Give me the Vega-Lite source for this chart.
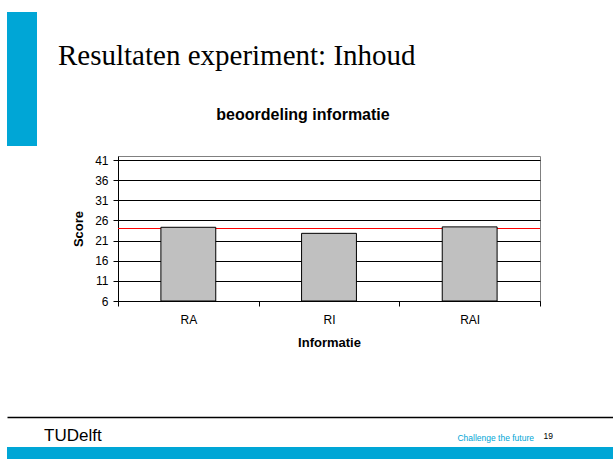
{
  "$schema": "https://vega.github.io/schema/vega-lite/v6.json",
  "background": "white",
  "padding": {"left": 7, "top": 12, "right": 0, "bottom": 0},
  "config": {
    "font": "Liberation Sans",
    "view": {"stroke": null},
    "concat": {"spacing": 0}
  },
  "spacing": -27,
  "vconcat": [
    {
      "title": {"text": "TUDelft", "orient": "bottom", "anchor": "start", "font": "Liberation Sans", "fontSize": 17, "fontWeight": "normal", "color": "#000000", "offset": -14, "dx": 37},
      "vconcat": [
        {
          "title": {"text": "19", "orient": "bottom", "anchor": "end", "font": "Liberation Sans", "fontSize": 8.5, "fontWeight": "normal", "color": "#000000", "offset": -10, "dx": 12},
          "vconcat": [
            {
              "title": {"text": "Challenge the future", "orient": "bottom", "anchor": "end", "font": "Liberation Sans", "fontSize": 8.5, "fontWeight": "normal", "color": "#00a6d6", "offset": 84, "dx": -7},
              "hconcat": [
                {
                  "data": {"values": []},
                  "width": 30,
                  "height": 134,
                  "view": {"fill": "#00a6d6", "stroke": null},
                  "mark": "rect",
                  "encoding": {}
                },
                {
                  "spacing": 35,
                  "vconcat": [
                    {
                      "data": {"values": []},
                      "width": 422,
                      "height": 1,
                      "view": {"fill": null, "stroke": null},
                      "title": {"text": "Resultaten experiment: Inhoud", "orient": "bottom", "anchor": "start", "font": "Liberation Serif", "fontSize": 29, "fontWeight": "normal", "color": "#000000", "offset": 29, "dx": -60},
                      "mark": "rect",
                      "encoding": {}
                    },
                    {
                      "title": {"text": "beoordeling informatie", "anchor": "middle", "frame": "group", "font": "Liberation Sans", "fontSize": 16, "fontWeight": "bold", "color": "#000000", "offset": 31, "dx": -26},
                      "width": 422,
                      "height": 145,
                      "view": {"stroke": "#808080", "strokeWidth": 1},
                      "layer": [
                        {
                          "data": {"values": [{"Referentie": 24}]},
                          "mark": {"type": "rule", "color": "#ff0000", "stroke": "#ff0000", "strokeWidth": 1},
                          "encoding": {
                            "y": {"field": "Referentie", "type": "quantitative", "scale": {"domain": [6, 42], "nice": false, "zero": false}}
                          }
                        },
                        {
                          "data": {"values": [
                            {"Informatie": "RA", "Score": 24.3},
                            {"Informatie": "RI", "Score": 22.8},
                            {"Informatie": "RAI", "Score": 24.4}
                          ]},
                          "mark": {"type": "bar", "fill": "#c0c0c0", "stroke": "#000000", "strokeWidth": 1, "width": {"band": 0.39}},
                          "encoding": {
                            "x": {
                              "field": "Informatie", "type": "nominal", "sort": ["RA", "RI", "RAI"],
                              "scale": {"paddingInner": 0, "paddingOuter": 0},
                              "axis": {
                                "labelAngle": 0, "labelFontSize": 12, "labelColor": "#000000", "labelPadding": 8,
                                "tickBand": "extent", "tickSize": 5, "tickColor": "#000000",
                                "domainColor": "#000000", "domainWidth": 1,
                                "title": "Informatie", "titleFontSize": 13, "titleFontWeight": "bold", "titleColor": "#000000", "titlePadding": 11
                              }
                            },
                            "y": {
                              "field": "Score", "type": "quantitative",
                              "scale": {"domain": [6, 42], "nice": false, "zero": false},
                              "axis": {
                                "values": [6, 11, 16, 21, 26, 31, 36, 41],
                                "tickCount": 20,
                                "labelOverlap": false,
                                "grid": true, "gridColor": "#000000", "gridWidth": 1,
                                "labelFontSize": 12, "labelColor": "#000000", "labelPadding": 5,
                                "tickSize": 5, "tickColor": "#000000",
                                "domainColor": "#000000", "domainWidth": 1,
                                "title": "Score", "titleFontSize": 13, "titleFontWeight": "bold", "titleColor": "#000000", "titlePadding": 9
                              }
                            },
                            "y2": {"datum": 6}
                          }
                        }
                      ]
                    }
                  ]
                }
              ],
              "spacing": 21
            }
          ]
        }
      ]
    },
    {
      "data": {"values": []},
      "width": 606,
      "height": 12,
      "view": {"fill": "#00a6d6", "stroke": null},
      "mark": "rect",
      "encoding": {
        "x": {
          "field": "x", "type": "quantitative", "scale": {"domain": [0, 1]},
          "axis": {"orient": "top", "offset": 30, "domainColor": "#000000", "domainWidth": 1.5, "ticks": false, "labels": false, "grid": false, "title": null}
        }
      }
    }
  ]
}
